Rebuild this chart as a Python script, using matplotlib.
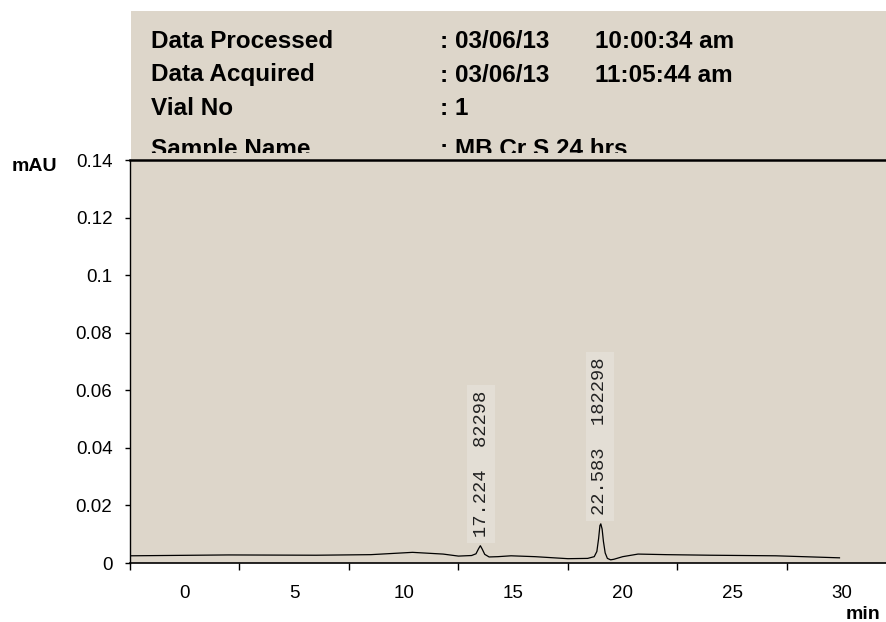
import matplotlib
matplotlib.use("Agg")
import matplotlib.pyplot as plt
from matplotlib.patches import Rectangle

# chromatogram trace (time on the chart's own axis, mAU)
time = [-2.5, 2.0, 6.0, 8.5, 10.4, 11.8, 12.5, 13.1, 13.3, 13.42, 13.5, 13.58,
        13.7, 13.9, 14.3, 14.9, 16.0, 17.5, 18.4, 18.7, 18.82, 18.9, 18.96, 19.0,
        19.06, 19.12, 19.2, 19.3, 19.45, 19.6, 20.0, 20.7, 22.0, 24.0, 27.0, 29.9]
signal = [0.0025, 0.0028, 0.0027, 0.0029, 0.0037, 0.0031, 0.0024, 0.0026, 0.0032,
          0.0050, 0.0060, 0.0049, 0.0030, 0.0021, 0.0022, 0.0025, 0.0022, 0.0015,
          0.0016, 0.0022, 0.0040, 0.0085, 0.0130, 0.0136, 0.0118, 0.0075, 0.0035,
          0.0016, 0.0011, 0.0013, 0.0022, 0.0031, 0.0029, 0.0027, 0.0025, 0.0018]

peak_pos = [13.53, 18.96]
peak_label_y = [0.0090, 0.0167]
peak_labels = ["17.224  82298", "22.583  182298"]

y_ticks = [0, 0.02, 0.04, 0.06, 0.08, 0.1, 0.12, 0.14]
y_tick_labels = ["0", "0.02", "0.04", "0.06", "0.08", "0.1", "0.12", "0.14"]
x_ticks = [0, 5, 10, 15, 20, 25, 30]
x_tick_marks = [-2.5, 2.5, 7.5, 12.5, 17.5, 22.5, 27.5]

header_keys = ["Data Processed", "Data Acquired", "Vial No", "Sample Name"]
header_vals = [": 03/06/13", ": 03/06/13", ": 1", ": MB Cr S 24 hrs"]
header_times = ["10:00:34 am", "11:05:44 am", "", ""]

beige = "#ddd6ca"
W, H = 887, 622

fig = plt.figure(figsize=(8.87, 6.22), dpi=100)
fig.patch.set_facecolor("white")

# header picture (cut off at the bottom like the pasted image)
hx0, hx1, hy0, hy1 = 131, 887, 11, 161
ax_h = fig.add_axes([hx0 / W, 1 - hy1 / H, (hx1 - hx0) / W, (hy1 - hy0) / H])
ax_h.set_facecolor(beige)
ax_h.set_xlim(hx0, hx1)
ax_h.set_ylim(hy1, hy0)
ax_h.axis("off")
ax_h.add_patch(Rectangle((hx0, hy0), hx1 - hx0, hy1 - hy0, color=beige, zorder=0))
clip = Rectangle((hx0, hy0), hx1 - hx0, 142, transform=ax_h.transData)
baselines = [48, 81.5, 115, 156]
for i in range(4):
    for x, s in [(151, header_keys[i]), (440, header_vals[i]), (595, header_times[i])]:
        t = ax_h.text(x, baselines[i], s, fontsize=17.5, fontweight="bold",
                      family="Liberation Sans", va="baseline", ha="left")
        t.set_clip_on(True)
        t.set_clip_path(clip)

# main chromatogram
ax = fig.add_axes([130 / W, (H - 563) / H, (W - 130) / W, (563 - 160) / H])
ax.set_facecolor(beige)
ax.plot(time, signal, color="black", lw=0.9)
ax.set_xlim(-2.5, 32.07)
ax.set_ylim(0, 0.14)

for x, y, s in zip(peak_pos, peak_label_y, peak_labels):
    ax.text(x, y, s, rotation=90, ha="center", va="bottom", fontsize=13.5,
            family="Liberation Mono", color="#222222",
            bbox=dict(boxstyle="square,pad=0.3", fc="#e3ded5", ec="none"))

ax.set_yticks(y_ticks)
ax.set_yticklabels(y_tick_labels)
ax.set_xticks(x_ticks)
ax.set_xticklabels([str(v) for v in x_ticks])
ax.set_xticks(x_tick_marks, minor=True)
ax.tick_params(axis="x", which="major", length=0, pad=16, labelsize=13.5)
ax.tick_params(axis="x", which="minor", length=5, width=1, direction="out")
ax.tick_params(axis="y", length=3.6, width=1, pad=9, labelsize=13.5)
for lab in ax.get_xticklabels() + ax.get_yticklabels():
    lab.set_family("Liberation Sans")

ax.spines["right"].set_visible(False)
ax.spines["top"].set_linewidth(1.8)
ax.spines["left"].set_linewidth(1.0)
ax.spines["bottom"].set_linewidth(1.2)

fig.text(12 / W, (H - 171) / H, "mAU", fontsize=14, fontweight="bold",
         family="Liberation Sans", va="baseline", ha="left")
fig.text(880 / W, (H - 619) / H, "min", fontsize=14, fontweight="bold",
         family="Liberation Sans", va="baseline", ha="right")

fig.savefig("out.png", dpi=100)
